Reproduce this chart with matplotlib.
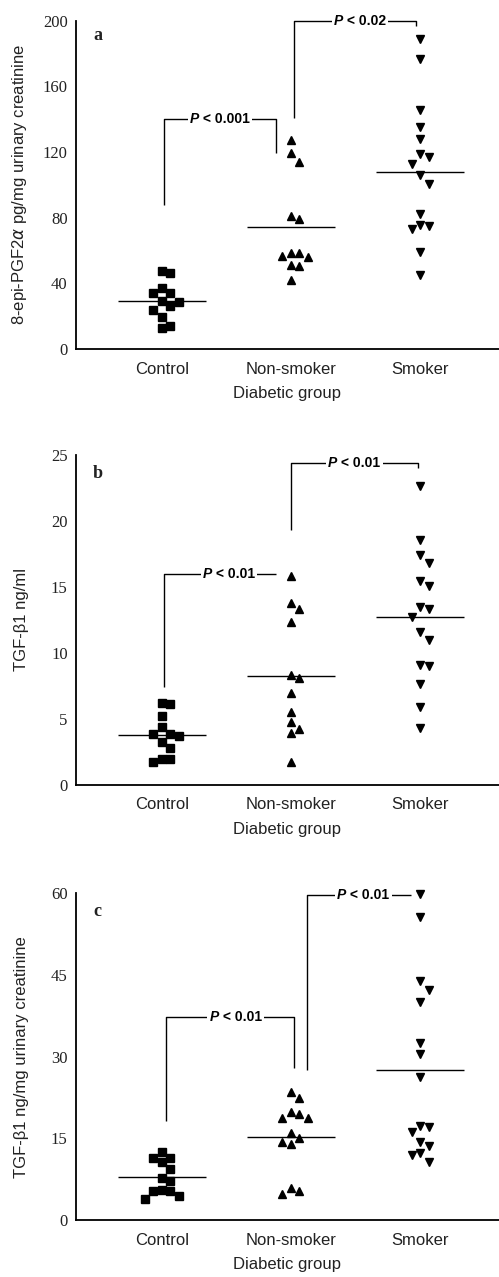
import numpy as np
import matplotlib
matplotlib.use("Agg")
import matplotlib.pyplot as plt
from matplotlib.offsetbox import TextArea, HPacker, AnnotationBbox

GROUPS = ["Control", "Non-smoker", "Smoker"]
MARKERS = ["s", "^", "v"]

# panel a: 8-epi-PGF2alpha, pg/mg urinary creatinine
a_control = [47.3, 46.4, 37.1, 34.3, 34.3, 29.4, 28.6, 26.2, 23.7, 19.3, 14.0, 13.0]
a_nonsmoker = [127.4, 119.3, 113.8, 81.1, 79.3, 58.4, 58.4, 56.4, 55.8, 51.3, 50.3, 42.2]
a_smoker = [189.1, 176.9, 145.5, 135.3, 128.2, 118.7, 116.7, 113.0, 105.9, 100.4,
            82.2, 75.5, 74.9, 73.0, 59.2, 45.0]
a_lines = [29.4, 74.6, 107.9]
a_pvals = ["< 0.001", "< 0.02"]

# panel b: TGF-beta1 ng/ml
b_control = [6.24, 6.14, 5.25, 4.37, 3.86, 3.86, 3.74, 3.28, 2.78, 1.94, 1.94, 1.72]
b_nonsmoker = [15.83, 13.81, 13.31, 12.32, 8.33, 8.13, 6.94, 5.56, 4.80, 4.24, 3.91, 1.72]
b_smoker = [22.68, 18.56, 17.42, 16.84, 15.45, 15.10, 13.46, 13.31, 12.75, 11.62,
            10.98, 9.09, 9.02, 7.63, 5.88, 4.29]
b_lines = [3.79, 8.26, 12.75]
b_pvals = ["< 0.01", "< 0.01"]

# panel c: TGF-beta1 ng/mg urinary creatinine
c_control = [12.55, 11.33, 11.33, 10.59, 9.37, 7.65, 7.23, 5.51, 5.39, 5.39, 4.41, 3.86]
c_nonsmoker = [23.45, 22.47, 19.90, 19.47, 18.68, 18.68, 15.92, 15.0, 14.27, 13.96,
               5.82, 5.39, 4.72]
c_smoker = [59.9, 55.7, 43.97, 42.25, 40.1, 32.45, 30.5, 26.2, 17.33, 17.02, 16.23,
            14.39, 13.66, 12.25, 11.94, 10.59]
c_lines = [7.96, 15.31, 27.56]
c_pvals = ["< 0.01", "< 0.01"]

SANS = "Liberation Sans"
SERIF = "Liberation Serif"
TXT = "#222222"


def swarm(vals, px_per_unit, min_px=10.0, step=0.066):
    """Greedy dodge: push a point sideways when it would overlap one already in its column."""
    placed, offs = [], []
    for v in vals:
        y = v * px_per_unit
        for s in [0, 1, -1, 2, -2, 3, -3]:
            if all(abs(y - yy) >= min_px for ss, yy in placed if ss == s):
                break
        placed.append((s, y))
        offs.append(s * step)
    return np.array(offs)


def bracket(ax, x1, x2, yl, yt, yr):
    ax.plot([x1, x1, x2, x2], [yl, yt, yt, yr], color="black", lw=1.0,
            clip_on=False, solid_capstyle="butt")


def plabel(ax, xc, y, rest):
    p = TextArea("P", textprops=dict(fontsize=10, fontweight="bold", style="italic",
                                     family=SANS, color="black"))
    r = TextArea(" " + rest, textprops=dict(fontsize=10, fontweight="bold",
                                            family=SANS, color="black"))
    box = HPacker(children=[p, r], align="baseline", pad=0, sep=0)
    ab = AnnotationBbox(box, (xc, y), frameon=True, box_alignment=(0.5, 0.5),
                        pad=0.15, bboxprops=dict(facecolor="white", edgecolor="none"))
    ab.set_clip_on(False)
    ax.add_artist(ab)


def panel(ax, groups_vals, lines, ymax, yticks, ylabel, letter, brackets, pvals):
    ax_h_px = ax.get_position().height * 1277
    ax.set_xlim(-0.663, 2.61)
    ax.set_ylim(0, ymax)
    ppu = ax_h_px / ymax
    for i, vals in enumerate(groups_vals):
        xs = i + swarm(vals, ppu)
        ax.plot(xs, vals, MARKERS[i], color="black", ms=5.2 if i == 0 else 5.8,
                clip_on=False, zorder=3)
        ax.hlines(lines[i], i - 0.34, i + 0.34, color="black", lw=1.0)
    for (x1, x2, yl, yt, yr, xc), pv in zip(brackets, pvals):
        bracket(ax, x1, x2, yl, yt, yr)
        plabel(ax, xc, yt, pv)

    for s in ["top", "right"]:
        ax.spines[s].set_visible(False)
    for s in ["left", "bottom"]:
        ax.spines[s].set_linewidth(1.3)
    ax.set_yticks(yticks)
    ax.set_yticklabels([str(t) for t in yticks], family=SERIF, fontsize=12, color=TXT)
    ax.set_xticks(range(3))
    ax.set_xticklabels(GROUPS, family=SANS, fontsize=12, color=TXT)
    ax.tick_params(axis="both", length=0)
    ax.tick_params(axis="y", pad=6)
    ax.tick_params(axis="x", pad=9)
    ax.set_xlabel("Diabetic group", family=SANS, fontsize=12, color=TXT, labelpad=7)
    ax.set_ylabel(ylabel, family=SANS, fontsize=12, color=TXT)
    ax.yaxis.set_label_coords(-0.112, 0.5)
    ax.text(0.051, letter[1], letter[0], transform=ax.transAxes, family=SERIF,
            fontsize=13, fontweight="bold", ha="center", va="center", color=TXT)


fig = plt.figure(figsize=(4.99, 12.77), dpi=100)
left, width = 0.1523, 0.8477
ax_a = fig.add_axes([left, 0.7267, width, 0.2571])
ax_b = fig.add_axes([left, 0.3853, width, 0.2584])
ax_c = fig.add_axes([left, 0.0446, width, 0.2559])

panel(ax_a, [a_control, a_nonsmoker, a_smoker], a_lines, 200, [0, 40, 80, 120, 160, 200],
      r"8-epi-PGF2$\alpha$ pg/mg urinary creatinine", ("a", 0.956),
      [(0.02, 0.885, 87.6, 140.4, 119.5, 0.45), (1.02, 1.97, 141, 200, 197.0, 1.535)],
      a_pvals)
panel(ax_b, [b_control, b_nonsmoker, b_smoker], b_lines, 25, [0, 5, 10, 15, 20, 25],
      "TGF-β1 ng/ml", ("b", 0.945),
      [(0.02, 0.885, 7.45, 15.98, 15.98, 0.52), (1.0, 1.986, 19.3, 24.4, 24.0, 1.49)],
      b_pvals)
panel(ax_c, [c_control, c_nonsmoker, c_smoker], c_lines, 60, [0, 15, 30, 45, 60],
      "TGF-β1 ng/mg urinary creatinine", ("c", 0.944),
      [(0.031, 1.026, 18.2, 37.2, 27.9, 0.573), (1.127, 1.93, 27.6, 59.7, 59.7, 1.56)],
      c_pvals)

fig.savefig("out.png", dpi=100)
